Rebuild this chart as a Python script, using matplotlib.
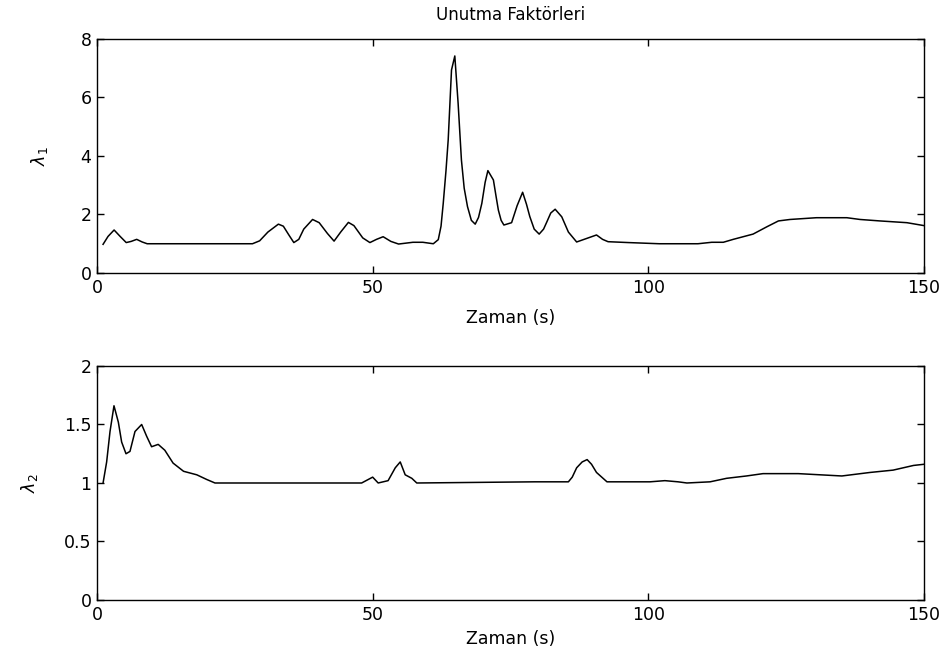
import matplotlib
matplotlib.use("Agg")
import matplotlib.pyplot as plt

# lambda_1 (top)
t1 = [1.1, 2.0, 3.1, 4.2, 5.3, 6.2, 7.2, 8.2, 9.1, 20.0, 28.2, 29.5, 31.0, 32.9, 33.8, 34.8,
      35.7, 36.6, 37.5, 39.1, 40.3, 41.8, 43.0, 44.2, 45.6, 46.6, 48.2, 49.5, 50.7, 51.9,
      53.3, 54.7, 57.3, 59.1, 61.0, 61.9, 62.4, 62.8, 63.3, 63.7, 64.3, 64.9, 65.5, 66.1,
      66.6, 67.2, 67.9, 68.6, 69.2, 69.8, 70.4, 70.9, 71.9, 72.4, 72.8, 73.3, 73.8, 75.2,
      76.2, 77.2, 77.9, 78.5, 79.3, 80.2, 81.0, 81.6, 82.3, 83.1, 84.3, 85.5, 87.0, 88.8,
      90.6, 91.7, 92.7, 96.4, 102.0, 109.0, 111.5, 113.6, 115.4, 119.0, 121.5, 123.6,
      125.7, 130.5, 136.0, 138.4, 142.0, 146.9, 150.0]
lam1 = [0.98, 1.25, 1.47, 1.25, 1.04, 1.08, 1.15, 1.06, 1.0, 1.0, 1.0, 1.1, 1.4, 1.67, 1.6, 1.3,
        1.04, 1.15, 1.5, 1.83, 1.72, 1.35, 1.09, 1.4, 1.73, 1.62, 1.2, 1.04, 1.15, 1.24,
        1.08, 0.99, 1.05, 1.05, 1.0, 1.14, 1.6, 2.38, 3.5, 4.55, 6.94, 7.42, 5.8, 3.86,
        2.9, 2.27, 1.8, 1.67, 1.9, 2.38, 3.1, 3.5, 3.18, 2.6, 2.15, 1.8, 1.64, 1.72,
        2.3, 2.76, 2.35, 1.93, 1.5, 1.33, 1.5, 1.75, 2.05, 2.18, 1.92, 1.4, 1.06, 1.18,
        1.3, 1.15, 1.07, 1.04, 1.0, 1.0, 1.05, 1.05, 1.15, 1.33, 1.58, 1.78,
        1.83, 1.89, 1.89, 1.83, 1.78, 1.72, 1.62]

# lambda_2 (bottom)
t2 = [1.1, 1.75, 2.36, 3.08, 3.87, 4.47, 5.26, 5.98, 6.89, 8.1, 9.0, 9.9, 11.1, 12.3, 13.8,
      15.7, 18.1, 19.9, 21.4, 48.0, 49.2, 50.0, 51.0, 52.8, 54.1, 55.0, 55.9, 57.1, 58.0,
      79.4, 85.5, 86.2, 87.0, 88.0, 88.9, 89.7, 90.6, 92.5, 100.3, 103.0, 105.4, 107.0,
      111.2, 114.2, 117.8, 120.8, 127.2, 135.1, 140.2, 144.4, 148.1, 150.0]
lam2 = [1.0, 1.18, 1.44, 1.66, 1.52, 1.35, 1.25, 1.27, 1.44, 1.50, 1.40, 1.31, 1.33, 1.28, 1.17,
        1.10, 1.07, 1.03, 1.0, 1.0, 1.03, 1.05, 1.0, 1.02, 1.13, 1.18, 1.07, 1.04, 1.0,
        1.01, 1.01, 1.05, 1.13, 1.18, 1.20, 1.16, 1.09, 1.01, 1.01, 1.02, 1.01, 1.0,
        1.01, 1.04, 1.06, 1.08, 1.08, 1.06, 1.09, 1.11, 1.15, 1.16]

x_ticks = [0, 50, 100, 150]
y1_ticks = [0, 2, 4, 6, 8]
y2_ticks = [0, 0.5, 1, 1.5, 2]
y2_labels = ['0', '0.5', '1', '1.5', '2']

plt.rcParams['font.family'] = ['DejaVu Sans']
plt.rcParams['font.size'] = 12.5
plt.rcParams['mathtext.fontset'] = 'dejavusans'

fig = plt.figure(figsize=(9.51, 6.61), dpi=100)
ax1 = fig.add_axes([0.102, 0.587, 0.8696, 0.354])
ax2 = fig.add_axes([0.102, 0.0923, 0.8696, 0.354])

def style(ax):
    ax.tick_params(direction='in', top=True, right=True, length=5, width=1, colors='black',
                   labelsize=12.5, pad=4)
    for s in ax.spines.values():
        s.set_linewidth(1)
        s.set_color('black')

ax1.plot(t1, lam1, color='black', lw=1.1)
ax1.set_xlim(0, 150)
ax1.set_ylim(0, 8)
ax1.set_xticks(x_ticks)
ax1.set_yticks(y1_ticks)
ax1.set_xlabel('Zaman (s)', labelpad=9)
ax1.set_ylabel(r'$\lambda_1$', labelpad=22)
ax1.set_title('Unutma Faktörleri', fontsize=12, pad=14)
style(ax1)

ax2.plot(t2, lam2, color='black', lw=1.1)
ax2.set_xlim(0, 150)
ax2.set_ylim(0, 2)
ax2.set_xticks(x_ticks)
ax2.set_yticks(y2_ticks)
ax2.set_yticklabels(y2_labels)
ax2.set_xlabel('Zaman (s)', labelpad=5)
ax2.set_ylabel(r'$\lambda_2$', labelpad=17)
style(ax2)

fig.savefig('out.png', dpi=100)
